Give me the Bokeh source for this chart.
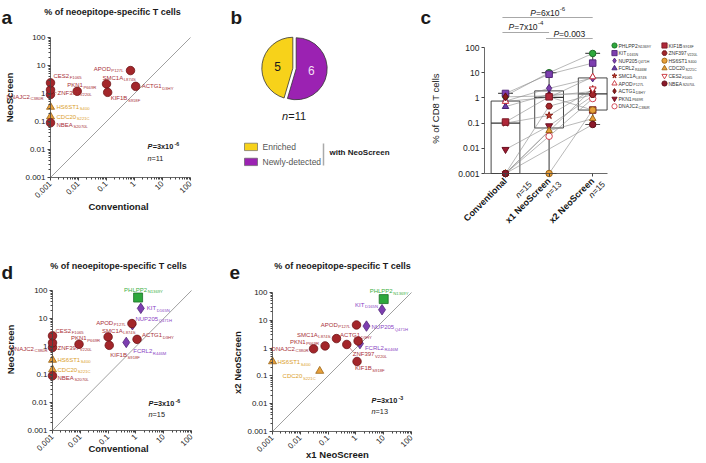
import math
import numpy as np
from bokeh.plotting import figure
from bokeh.models import ColumnDataSource, LabelSet, Label, FixedTicker, Range1d, Spacer
from bokeh.layouts import row, column
from bokeh.embed import file_html
from bokeh.resources import INLINE
from bokeh.core.properties import value

FONT = "Liberation Sans"
NAN = float("nan")

# ------------------------------------------------------------------ data
antigens = ["PHLPP2", "KIT", "NUP205", "FCRL2", "SMC1A", "APOD", "ACTG1", "PKN1",
            "DNAJC2", "KIF1B", "ZNF397", "HS6ST1", "CDC20", "CES2", "NBEA"]
mutations = ["N1369Y", "D165N", "Q471H", "R446M", "L874S", "P127L", "D3HY", "P669R",
             "C380R", "S918F", "V220L", "S400", "S221C", "F1065", "S2070L"]
antigen_class = ["green", "purple", "purple", "purple", "red", "red", "red", "red",
                 "red", "red", "red", "orange", "orange", "red", "red"]
conventional = [1.2, 1.5, 0.75, 0.45, 0.10, 0.72, 1.1, 0.009, 0.001, 0.11, 0.001,
                0.001, 0.001, 0.001, 0.001]
x1_neoscreen = [10.0, 8.7, 2.4, 1.4, 0.20, 1.05, 1.2, 0.078, 0.030, 1.1, 0.47,
                0.001, 0.050, NAN, NAN]
x2_neoscreen = [58, 24, 6.2, 1.45, 2.2, 6.8, 1.8, 1.2, 0.94, 0.33, 1.35,
                0.33, 0.15, 2.3, 0.088]
neoscreen = [56, 23, 6.0, 1.4, 2.2, 6.6, 1.8, 1.2, 0.92, 1.1, 1.35,
             0.33, 0.15, 2.4, 0.09]
panel_a_antigens = ["SMC1A", "APOD", "ACTG1", "PKN1", "DNAJC2", "KIF1B", "ZNF397",
                    "HS6ST1", "CDC20", "CES2", "NBEA"]

pie_labels = ["Enriched", "Newly-detected"]
pie_counts = [5, 6]

box_categories = ["Conventional", "x1 NeoScreen", "x2 NeoScreen"]
box_n = [15, 13, 15]

tick_values = [0.001, 0.01, 0.1, 1, 10, 100]
tick_labels = ["0.001", "0.01", "0.1", "1", "10", "100"]

stats_a = ("=3x10", "-6", 11)
stats_d = ("=3x10", "-6", 15)
stats_e = ("=3x10", "-3", 13)
brackets_c = [(0, 2, "=6x10", "-6"), (0, 1, "=7x10", "-4"), (1, 2, "=0.003", "")]

# ------------------------------------------------------------------ styles
FILL = {"red": "#a3262a", "orange": "#e8a03a", "green": "#2ea83c", "purple": "#7d3eb0"}
LINE = {"red": "#6e1518", "orange": "#9a6418", "green": "#1d6f27", "purple": "#522878"}
TXT = {"red": "#a83038", "orange": "#dba02a", "green": "#3cb043", "purple": "#8a44c4"}
MARK = {"red": "circle", "orange": "triangle", "green": "square", "purple": "diamond"}
MSIZE = {"red": 8.5, "orange": 8, "green": 9, "purple": 10.5}

C_STYLE = {  # marker, fill, line, size
    "PHLPP2": ("circle", "#2ea83c", "#1d6f27", 6.5),
    "KIT": ("square", "#7d3eb0", "#522878", 6.5),
    "NUP205": ("diamond", "#7d3eb0", "#522878", 8),
    "FCRL2": ("triangle", "#6a3aa8", "#452470", 6.5),
    "SMC1A": ("star", "#c0392b", "#8a2018", 7.5),
    "APOD": ("triangle", "white", "#c8323a", 6.5),
    "ACTG1": ("diamond", "#8b1a1a", "#5e1010", 8),
    "PKN1": ("inverted_triangle", "#9b1b30", "#6a1020", 7),
    "DNAJC2": ("circle", "white", "#d04050", 6.5),
    "KIF1B": ("square", "#b0283a", "#7a1a25", 6.5),
    "ZNF397": ("hex", "#a3262a", "#6e1518", 6.5),
    "HS6ST1": ("circle", "#e8a03a", "#9a6418", 6.5),
    "CDC20": ("triangle", "#e8a03a", "#9a6418", 6.5),
    "CES2": ("inverted_triangle", "white", "#c8323a", 6.5),
    "NBEA": ("circle", "#8b1a2a", "#5e1018", 6.5),
}

_W = {}
for ch, w in zip("ABCDEFGHIJKLMNOPQRSTUVWXYZ",
                 [667, 667, 722, 722, 667, 611, 778, 722, 278, 500, 667, 556, 833,
                  722, 778, 667, 778, 722, 667, 611, 722, 667, 944, 667, 667, 611]):
    _W[ch] = w
for ch in "0123456789":
    _W[ch] = 556
_W.update(dict(a=556, b=556, c=500, d=556, e=556, f=278, g=556, h=556, i=222, j=222,
               k=500, l=222, m=833, n=556, o=556, p=556, q=556, r=333, s=500, t=278,
               u=556, v=500, w=722, x=500, y=500, z=500))
_W.update({" ": 278, "=": 584, "-": 333, "%": 889, ".": 278})


def tw(s, fs, bold=False):
    return sum(_W.get(c, 556) for c in s) * fs / 1000.0 * (1.07 if bold else 1.0)


def new_fig(W, H, **kw):
    p = figure(width=W, height=H, title=None, output_backend="svg", toolbar_location=None,
               min_border_left=0, min_border_right=0, min_border_top=0,
               min_border_bottom=0, **kw)
    p.grid.visible = False
    p.outline_line_color = None
    return p


def txt(p, x, y, s, fs, bold=False, italic=False, align="left", baseline="middle",
        angle=0.0, color="#1a1a1a"):
    style = ("bold italic" if bold and italic else "bold" if bold
             else "italic" if italic else "normal")
    p.add_layout(Label(x=x, y=y, x_units="canvas", y_units="canvas", text=s,
                       text_font=FONT, text_font_size=f"{fs}px", text_font_style=style,
                       text_align=align, text_baseline=baseline, angle=angle,
                       text_color=color))


def n_text(p, x, y, num, fs, align="left"):
    w1 = tw("n", fs)
    w2 = tw(f"={num}", fs)
    x0 = x - (w1 + w2) / 2 if align == "center" else x
    txt(p, x0, y, "n", fs, italic=True)
    txt(p, x0 + w1, y, f"={num}", fs)


def p_text(p, x, y, base, sup, fs, bold=True, align="left"):
    wp = tw("P", fs, bold)
    wb = tw(base, fs, bold)
    ws = tw(sup, fs * 0.72, bold)
    x0 = x - (wp + wb + ws) / 2 if align == "center" else x
    txt(p, x0, y, "P", fs, bold=bold, italic=True)
    txt(p, x0 + wp, y, base, fs, bold=bold)
    if sup:
        txt(p, x0 + wp + wb + 0.3, y - fs * 0.38, sup, fs * 0.72, bold=bold)


def add_labels(p, xs, ys, names, subs, colors, offs, fs=6.0, sfs=4.2, drop=2.0):
    nx, ny, sx, sy = [], [], [], []
    for n, s, (dx, dy, al) in zip(names, subs, offs):
        wn = tw(n, fs)
        ws = tw(s, sfs)
        if al == "L":
            a = dx
            b = dx + wn + 0.6
        else:
            b = dx - ws
            a = b - 0.6 - wn
        nx.append(a)
        sx.append(b)
        ny.append(-dy)
        sy.append(-(dy + drop))
    src = ColumnDataSource(dict(x=xs, y=ys, n=names, s=subs, c=colors,
                                nx=nx, ny=ny, sx=sx, sy=sy))
    p.add_layout(LabelSet(x="x", y="y", text="n", source=src, x_offset="nx",
                          y_offset="ny", text_color="c", text_font=value(FONT),
                          text_font_size=f"{fs}px", text_baseline="middle",
                          text_align="left"))
    p.add_layout(LabelSet(x="x", y="y", text="s", source=src, x_offset="sx",
                          y_offset="sy", text_color="c", text_font=value(FONT),
                          text_font_size=f"{sfs}px", text_baseline="middle",
                          text_align="left"))


decade_minor = [k * 10.0 ** e for e in range(-3, 2) for k in range(2, 10)]
LO = math.log10(tick_values[0])


def style_log_axis(ax, fs, minor=True):
    ax.ticker = FixedTicker(ticks=tick_values, minor_ticks=decade_minor if minor else [])
    ax.bounds = (tick_values[0], tick_values[-1])
    ax.major_label_overrides = dict(zip(tick_values, tick_labels))
    ax.axis_line_color = "#444"
    ax.axis_line_width = 0.8
    ax.major_tick_line_color = "#444"
    ax.major_tick_out = 3
    ax.major_tick_in = 0
    ax.minor_tick_line_color = "#444"
    ax.minor_tick_out = 2
    ax.minor_tick_in = 0
    ax.major_label_text_font = FONT
    ax.major_label_text_font_size = f"{fs}px"
    ax.major_label_text_color = "#222"
    ax.major_label_standoff = 2


def log_panel(W, H, x0, ppdx, y0, ppdy):
    # x0 / y0: canvas position (px from left / top) of the 0.001 value
    p = new_fig(W, H, x_axis_type="log", y_axis_type="log",
                x_range=Range1d(10 ** (LO - x0 / ppdx), 10 ** (LO + (W - x0) / ppdx)),
                y_range=Range1d(10 ** (LO - (H - y0) / ppdy), 10 ** (LO + y0 / ppdy)))
    style_log_axis(p.xaxis[0], 8)
    style_log_axis(p.yaxis[0], 8)
    p.xaxis.fixed_location = tick_values[0]
    p.yaxis.fixed_location = tick_values[0]
    p.xaxis.major_label_orientation = math.pi / 4
    lo, hi = tick_values[0], tick_values[-1]
    p.line([lo, hi], [lo, hi], line_color="#777", line_width=0.7)
    return p


def scatter_points(p, idx, xs, ys):
    cls = [antigen_class[i] for i in idx]
    src = ColumnDataSource(dict(x=xs, y=ys, m=[MARK[c] for c in cls],
                                f=[FILL[c] for c in cls], l=[LINE[c] for c in cls],
                                s=[MSIZE[c] for c in cls]))
    p.scatter("x", "y", marker="m", size="s", fill_color="f", line_color="l",
              line_width=0.8, source=src)


def label_points(p, idx, xs, ys, offs):
    add_labels(p, xs, ys, [antigens[i] for i in idx], [mutations[i] for i in idx],
               [TXT[antigen_class[i]] for i in idx], [offs[antigens[i]] for i in idx])


def leaders(p, idx, xs, ys, spec, ppdx, ppdy):
    x0, y0, x1, y1 = [], [], [], []
    for i, xv, yv in zip(idx, xs, ys):
        if antigens[i] in spec:
            dx, dy = spec[antigens[i]]
            x0.append(xv)
            y0.append(yv)
            x1.append(xv * 10 ** (dx / ppdx))
            y1.append(yv * 10 ** (-dy / ppdy))
    p.segment(x0=x0, y0=y0, x1=x1, y1=y1, line_color="#b04048", line_width=0.6)


TITLE = "% of neoepitope-specific T cells"

# ------------------------------------------------------------------ panel a
a = log_panel(230, 232, 50, 28.0, 177, 28.0)
ia = [antigens.index(n) for n in panel_a_antigens]
xa = [conventional[i] for i in ia]
ya = [neoscreen[i] for i in ia]
leaders(a, ia, xa, ya, {"ZNF397": (6, 3)}, 28.0, 28.0)
scatter_points(a, ia, xa, ya)
offs_a = {"CES2": (3, -7, "L"), "ZNF397": (7, 3, "L"), "DNAJC2": (-7, 2, "R"),
          "PKN1": (-10, -6, "L"), "HS6ST1": (6, 0, "L"), "CDC20": (6, 0, "L"),
          "NBEA": (6, 2, "L"), "APOD": (-7, -2, "R"), "SMC1A": (-4, -6, "L"),
          "KIF1B": (3, 6, "L"), "ACTG1": (6, 0, "L")}
label_points(a, ia, xa, ya, offs_a)
txt(a, 112, 11, TITLE, 9, bold=True, align="center")
txt(a, 1, 17, "a", 19, bold=True, baseline="alphabetic")
txt(a, 118, 206, "Conventional", 9.5, bold=True, align="center")
txt(a, 9, 97, "NeoScreen", 9.5, bold=True, align="center", angle=math.pi / 2)
p_text(a, 147, 146, stats_a[0], stats_a[1], 7.3)
n_text(a, 147, 158, stats_a[2], 7.3)

# ------------------------------------------------------------------ panel b
BW, BH = 190, 232
b = new_fig(BW, BH, x_range=Range1d(0, BW), y_range=Range1d(0, BH),
            x_axis_location=None, y_axis_location=None)
PIE_FILL = ["#f7d21a", "#9b22b2"]
PIE_TXT = ["#1a1a1a", "#f4dff4"]
cx, cy, r = 64, BH - 68, 31
total = sum(pie_counts)
ang_top = math.pi / 2
span_new = 2 * math.pi * pie_counts[1] / total
bounds = [(ang_top, ang_top + 2 * math.pi - span_new), (ang_top - span_new, ang_top)]
for k, (s0, s1) in enumerate(bounds):
    mid = (s0 + s1) / 2
    ox, oy = 1.7 * math.cos(mid), 1.7 * math.sin(mid)
    b.wedge(x=cx + ox, y=cy + oy, radius=r, start_angle=s0, end_angle=s1,
            direction="anticlock", fill_color=PIE_FILL[k], line_color="#333",
            line_width=0.8)
    b.add_layout(Label(x=cx + 0.55 * r * math.cos(mid), y=cy + 0.55 * r * math.sin(mid),
                       text=str(pie_counts[k]), text_font=FONT, text_font_size="12px",
                       text_align="center", text_baseline="middle",
                       text_color=PIE_TXT[k]))
n_text(b, 64, 115, total, 11, align="center")
for k, lab in enumerate(pie_labels):
    yk = 146.4 + 15 * k
    b.quad(left=14, right=27, bottom=BH - yk - 3.7, top=BH - yk + 3.7,
           fill_color=PIE_FILL[k], line_color="#555", line_width=0.6)
    txt(b, 32, yk, lab, 8.5, color="#555")
b.line([93, 93], [BH - 143, BH - 165], line_color="#aaa", line_width=1.5)
txt(b, 99, 152, "with NeoScreen", 8, bold=True)
txt(b, 0, 17, "b", 19, bold=True, baseline="alphabetic")

# ------------------------------------------------------------------ panel c
CW, CH = 190, 232
c_axis_px, c_cat0_px, c_cat_px, c_right_px = 64, 85, 43.6, 187
c_zero_px, c_ppd = 173, 25.2
xu = lambda px: (px - c_cat0_px) / c_cat_px
c = new_fig(CW, CH, y_axis_type="log",
            x_range=Range1d(xu(0), xu(CW)),
            y_range=Range1d(10 ** (LO - (CH - c_zero_px) / c_ppd), 10 ** (LO + c_zero_px / c_ppd)))
style_log_axis(c.yaxis[0], 8.5, minor=False)
c.yaxis.fixed_location = xu(c_axis_px)
xa_c = c.xaxis[0]
xa_c.fixed_location = tick_values[0]
xa_c.bounds = (xu(c_axis_px), xu(c_right_px))
xa_c.ticker = FixedTicker(ticks=[0, 1, 2], minor_ticks=[])
xa_c.major_label_overrides = {i: s for i, s in enumerate(box_categories)}
xa_c.major_label_orientation = math.pi / 4
xa_c.major_label_text_font = FONT
xa_c.major_label_text_font_style = "bold"
xa_c.major_label_text_font_size = "9px"
xa_c.major_label_text_color = "#111"
xa_c.axis_line_color = "#444"
xa_c.axis_line_width = 0.8
xa_c.major_tick_line_color = "#444"
xa_c.major_tick_out = 3
xa_c.major_tick_in = 0
xa_c.major_label_standoff = 3

columns = [conventional, x1_neoscreen, x2_neoscreen]
hw, cap = 0.33, 0.17
for i, col in enumerate(columns):
    vals = np.array([v for v in col if not math.isnan(v)])
    q1, med, q3 = np.quantile(vals, [0.25, 0.5, 0.75], method="weibull")
    c.quad(left=i - hw, right=i + hw, bottom=q1, top=q3, fill_alpha=0,
           line_color="#333", line_width=0.9)
    c.segment(x0=[i - hw], y0=[med], x1=[i + hw], y1=[med], line_color="#333", line_width=1.4)
    c.segment(x0=[i, i], y0=[q3, q1], x1=[i, i], y1=[vals.max(), vals.min()],
              line_color="#555", line_width=1.2)
    c.segment(x0=[i - cap, i - cap], y0=[vals.max(), vals.min()],
              x1=[i + cap, i + cap], y1=[vals.max(), vals.min()],
              line_color="#555", line_width=1.2)

lx, ly = [], []
for k in range(len(antigens)):
    px = [i for i in range(3) if not math.isnan(columns[i][k])]
    lx.append(px)
    ly.append([columns[i][k] for i in px])
c.multi_line(lx, ly, line_color="#8a8a8a", line_width=0.6)

pts = dict(x=[], y=[], m=[], f=[], l=[], s=[])
for k in range(len(antigens)):
    mk, fc, lc, sz = C_STYLE[antigens[k]]
    for i in range(3):
        v = columns[i][k]
        if math.isnan(v):
            continue
        pts["x"].append(i)
        pts["y"].append(v)
        pts["m"].append(mk)
        pts["f"].append(fc)
        pts["l"].append(lc)
        pts["s"].append(sz)
c.scatter("x", "y", marker="m", fill_color="f", line_color="l", size="s",
          line_width=1.0, source=ColumnDataSource(pts))


def c_y(py):
    return 10 ** (LO + (c_zero_px - py) / c_ppd)


br_y = [17, 32, 38]
br_txt_y = [12, 26, 33]
for (i0, i1, base, sup), yb, yt in zip(brackets_c, br_y, br_txt_y):
    c.segment(x0=[i0 - 0.07], y0=[c_y(yb)], x1=[i1], y1=[c_y(yb)],
              line_color="#a8a8a8", line_width=1.0)
    xc = c_cat0_px + c_cat_px * ((i0 - 0.07 + i1) / 2)
    p_text(c, xc, yt, base, sup, 8.5, bold=False, align="center")

# n labels below categories (rotated)
n_off = [(18, -16), (4, -16), (4, -16)]
ang = math.pi / 4
nsrc = dict(x=[], y=[], t1=[], t2=[], ox1=[], oy1=[], ox2=[], oy2=[])
for i, (n, (ox, oy)) in enumerate(zip(box_n, n_off)):
    w1 = tw("n", 8.5)
    w2 = tw(f"={n}", 8.5)
    sx = ox - (w1 + w2) / 2 * math.cos(ang)
    sy = oy - (w1 + w2) / 2 * math.sin(ang)
    nsrc["x"].append(i)
    nsrc["y"].append(tick_values[0])
    nsrc["t1"].append("n")
    nsrc["t2"].append(f"={n}")
    nsrc["ox1"].append(sx)
    nsrc["oy1"].append(sy)
    nsrc["ox2"].append(sx + w1 * math.cos(ang))
    nsrc["oy2"].append(sy + w1 * math.sin(ang))
nsrc = ColumnDataSource(nsrc)
c.add_layout(LabelSet(x="x", y="y", text="t1", source=nsrc, x_offset="ox1", y_offset="oy1",
                      angle=ang, text_font=value(FONT), text_font_size="8.5px",
                      text_font_style="italic", text_baseline="middle", text_color="#1a1a1a"))
c.add_layout(LabelSet(x="x", y="y", text="t2", source=nsrc, x_offset="ox2", y_offset="oy2",
                      angle=ang, text_font=value(FONT), text_font_size="8.5px",
                      text_baseline="middle", text_color="#1a1a1a"))
txt(c, 15, 108, "% of CD8 T cells", 9.5, align="center", angle=math.pi / 2)
txt(c, 0, 17, "c", 19, bold=True, baseline="alphabetic")

# legend for panel c
LW, LH = 94, 232
lg = new_fig(LW, LH, x_range=Range1d(0, LW), y_range=Range1d(LH, 0),
             x_axis_location=None, y_axis_location=None)
leg = dict(x=[], y=[], m=[], f=[], l=[], s=[])
for k, name in enumerate(antigens):
    colk, rowk = (0, k) if k < 9 else (1, k - 9)
    mk, fc, lc, sz = C_STYLE[name]
    leg["x"].append(4 + 50 * colk)
    leg["y"].append(45 + 7.6 * rowk)
    leg["m"].append(mk)
    leg["f"].append(fc)
    leg["l"].append(lc)
    leg["s"].append(min(sz, 6.5) * 0.8)
lg.scatter("x", "y", marker="m", fill_color="f", line_color="l", size="s",
           line_width=0.9, source=ColumnDataSource(leg))
add_labels(lg, leg["x"], leg["y"], antigens, mutations, ["#333"] * len(antigens),
           [(4, 0, "L")] * len(antigens), fs=5.0, sfs=3.6, drop=1.6)

# ------------------------------------------------------------------ panel d
d = log_panel(228, 229, 52, 27.8, 198, 28.0)
idd = list(range(len(antigens)))
xd = [conventional[i] for i in idd]
yd = [neoscreen[i] for i in idd]
scatter_points(d, idd, xd, yd)
offs_d = {"PHLPP2": (-14, -8, "L"), "KIT": (6, 0, "L"), "NUP205": (3, -6, "L"),
          "APOD": (-6, -1, "R"), "SMC1A": (-6, -6, "L"), "CES2": (3, -5, "L"),
          "PKN1": (-8, -6, "L"), "DNAJC2": (-5, 1, "R"), "ZNF397": (5, 5, "L"),
          "ACTG1": (5, -4, "L"), "FCRL2": (7, 9, "L"), "KIF1B": (1, 10, "L"),
          "HS6ST1": (5, 0, "L"), "CDC20": (5, 0, "L"), "NBEA": (5, 2, "L")}
label_points(d, idd, xd, yd, offs_d)
txt(d, 118, 33, TITLE, 9, bold=True, align="center")
txt(d, 1, 40, "d", 19, bold=True, baseline="alphabetic")
txt(d, 118, 216, "Conventional", 9.5, bold=True, align="center")
txt(d, 10, 117, "NeoScreen", 9.5, bold=True, align="center", angle=math.pi / 2)
p_text(d, 148, 171, stats_d[0], stats_d[1], 7.3)
n_text(d, 148, 182, stats_d[2], 7.3)

# ------------------------------------------------------------------ panel e
e = log_panel(242, 229, 44, 27.8, 199, 27.8)
ie = [i for i in range(len(antigens)) if not math.isnan(x1_neoscreen[i])]
xe = [x1_neoscreen[i] for i in ie]
ye = [x2_neoscreen[i] for i in ie]
leaders(e, ie, xe, ye, {"ZNF397": (6, 7), "ACTG1": (-4, -4)}, 27.8, 27.8)
scatter_points(e, ie, xe, ye)
offs_e = {"PHLPP2": (-14, -8, "L"), "KIT": (-4, -5, "R"), "NUP205": (5, 1, "L"),
          "APOD": (-6, 0, "R"), "SMC1A": (-6, -4, "R"), "ACTG1": (-18, -6, "L"),
          "PKN1": (-6, -4, "R"), "DNAJC2": (-5, 0, "R"), "FCRL2": (5, 4, "L"),
          "ZNF397": (6, 10, "L"), "KIF1B": (-2, 7, "L"), "HS6ST1": (5, 1, "L"),
          "CDC20": (-4, 5, "R")}
label_points(e, ie, xe, ye, offs_e)
txt(e, 114, 33, TITLE, 9, bold=True, align="center")
txt(e, 1, 40, "e", 19, bold=True, baseline="alphabetic")
txt(e, 109, 222, "x1 NeoScreen", 9.5, bold=True, align="center")
txt(e, 9, 130, "x2 NeoScreen", 9.5, bold=True, align="center", angle=math.pi / 2)
p_text(e, 143, 168, stats_e[0], stats_e[1], 7.3)
n_text(e, 143, 179, stats_e[2], 7.3)

layout = column(row(a, b, c, lg), row(d, e, Spacer(width=234, height=229)))
open("out.html", "w").write(file_html(layout, INLINE))
